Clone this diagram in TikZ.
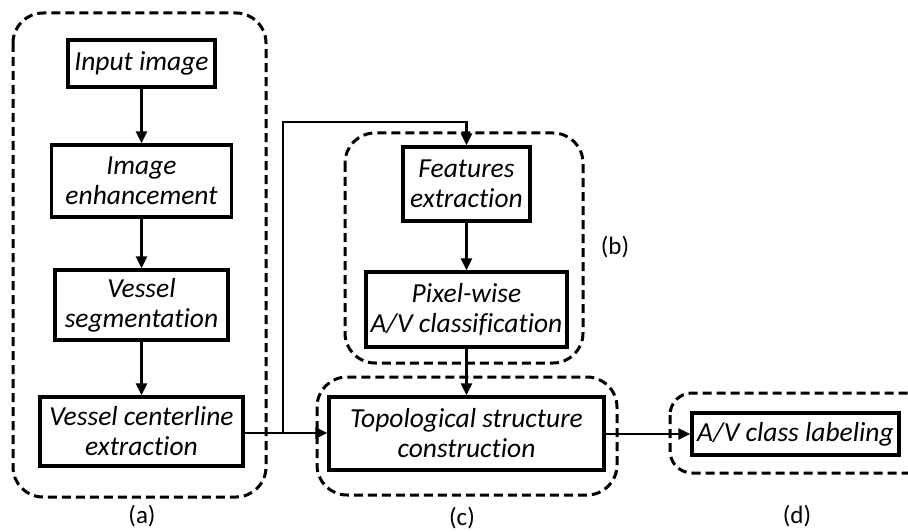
\documentclass[tikz,border=0pt]{standalone}
\usepackage{fontspec}
\setmainfont{Carlito}[Ligatures={NoCommon}]
\usetikzlibrary{arrows.meta}
\begin{document}
\begin{tikzpicture}[x=1pt,y=-1pt,
  procbox/.style={draw,line width=3.2pt,rectangle,inner sep=0pt,align=center,
    font=\fontsize{27.5}{30}\selectfont\itshape},
  groupbox/.style={draw,line width=3pt,dash pattern=on 9pt off 5pt,rounded corners=30pt},
  grouplabel/.style={font=\fontsize{25}{28}\selectfont},
  conn/.style={line width=2.6pt,-{Triangle[length=12pt,width=11pt]}},
  plainconn/.style={line width=2.6pt}]
\useasboundingbox (0,0) rectangle (908,532);
\clip (0,0) rectangle (908,532);
% groups
\draw[groupbox] (13,13) rectangle (266,497);
\draw[groupbox] (345,133) rectangle (583,363);
\draw[groupbox] (317,377) rectangle (617,495);
\draw[groupbox,rounded corners=22pt] (670,393) rectangle (930,473);
% boxes
\node[procbox,minimum width=147pt,minimum height=47pt] (in) at (141.5,63.5) {Input image};
\node[procbox,minimum width=180pt,minimum height=72pt] (enh) at (141.5,181) {Image\\enhancement};
\node[procbox,minimum width=173pt,minimum height=70pt] (seg) at (141.5,305) {Vessel\\segmentation};
\node[procbox,minimum width=203pt,minimum height=69pt] (cen) at (141.5,431.5) {Vessel centerline\\extraction};
\node[procbox,minimum width=127pt,minimum height=74pt] (feat) at (466.5,184) {Features\\extraction};
\node[procbox,minimum width=201pt,minimum height=75pt] (pix) at (466.5,309.5) {Pixel-wise\\A/V classification};
\node[procbox,minimum width=275pt,minimum height=73pt] (topo) at (466.5,433.5) {Topological structure\\construction};
\node[procbox,minimum width=207pt,minimum height=42pt] (lab) at (795.5,434) {A/V class labeling};
% labels
\node[grouplabel] (la) at (142,516) {(a)};
\node[grouplabel] (lb) at (615,247) {(b)};
\node[grouplabel] (lc) at (462,518) {(c)};
\node[grouplabel] (ld) at (797,516) {(d)};
% connectors
\coordinate (j) at (283,433);
\coordinate (t1) at (283,122);
\coordinate (t2) at (466.5,122);
\draw[conn] (in) -- (enh);
\draw[conn] (enh) -- (seg);
\draw[conn] (seg) -- (cen);
\draw[plainconn] (cen.east |- j) -- (j);
\draw[conn] (j) -- (topo.west |- j);
\draw[conn] (j) -- (t1) -- (t2) -- (feat.north);
\draw[conn] (feat) -- (pix);
\draw[conn] (pix) -- (topo);
\draw[conn] (topo.east |- lab) -- (lab.west);
\end{tikzpicture}
\end{document}
